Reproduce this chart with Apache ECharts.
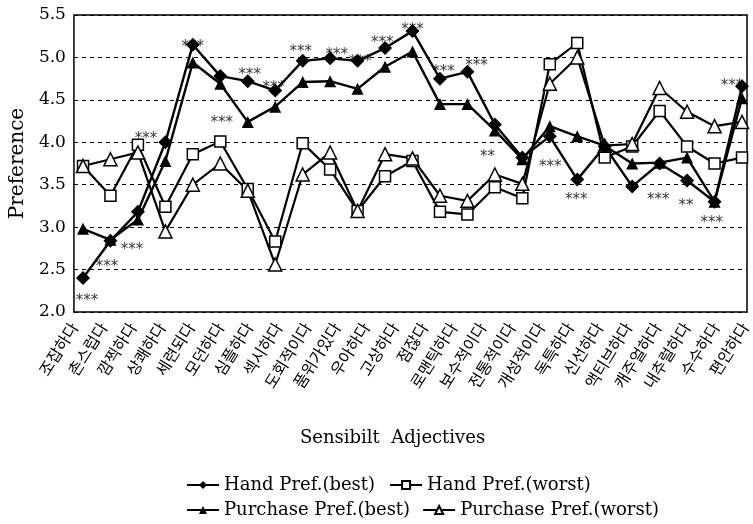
<!DOCTYPE html>
<html>
<head>
<meta charset="utf-8">
<script src="https://cdn.jsdelivr.net/npm/echarts@6/dist/echarts.min.js"></script>
<style>
  html, body { margin: 0; padding: 0; background: #fff; }
  #main { width: 753px; height: 524px; }
</style>
</head>
<body>
<div id="main"></div>
<script>
// x轴标签 (24个形容词)
var adjectives = ['조잡하다', '촌스럽다', '깜찍하다', '상쾌하다', '세련되다', '모던하다', '심플하다', '섹시하다',
  '도회적이다', '품위가있다', '우아하다', '고상하다', '점잖다', '로맨틱하다', '보수적이다', '전통적이다',
  '개성적이다', '독특하다', '신선하다', '액티브하다', '캐주얼하다', '내추럴하다', '수수하다', '편안하다'];

// y轴刻度
var yTicks = [2.0, 2.5, 3.0, 3.5, 4.0, 4.5, 5.0, 5.5];

// 四条折线 (25个点)
var handBest = [2.40, 2.84, 3.18, 4.00, 5.15, 4.78, 4.72, 4.61, 4.96, 4.99, 4.96, 5.11, 5.31,
  4.75, 4.83, 4.21, 3.82, 4.07, 3.56, 3.95, 3.48, 3.75, 3.55, 3.30, 4.66];
var handWorst = [3.72, 3.37, 3.97, 3.24, 3.86, 4.01, 3.45, 2.83, 3.99, 3.68, 3.19, 3.60, 3.78,
  3.18, 3.15, 3.47, 3.34, 4.92, 5.17, 3.82, 3.95, 4.37, 3.95, 3.75, 3.82];
var purchaseBest = [2.98, 2.85, 3.09, 3.78, 4.94, 4.69, 4.24, 4.42, 4.71, 4.72, 4.63, 4.89, 5.07,
  4.45, 4.45, 4.14, 3.80, 4.19, 4.07, 3.96, 3.75, 3.76, 3.82, 3.30, 4.52];
var purchaseWorst = [3.72, 3.80, 3.88, 2.95, 3.50, 3.75, 3.43, 2.56, 3.62, 3.88, 3.19, 3.86, 3.81,
  3.37, 3.31, 3.62, 3.51, 4.69, 5.00, 3.96, 3.98, 4.64, 4.36, 4.19, 4.24];

// 显著性标记 [点序号, 值, 文本]
var sigMarks = [
  [0.15, 2.18, '***'], [0.87, 2.58, '***'], [1.78, 2.78, '***'], [2.29, 4.09, '***'],
  [4.0, 5.17, '***'], [5.05, 4.27, '***'], [6.07, 4.84, '***'], [6.95, 4.68, '***'],
  [7.93, 5.11, '***'], [9.24, 5.08, '***'], [10.1, 4.99, '***'], [10.9, 5.22, '***'],
  [12.0, 5.37, '***'], [13.13, 4.88, '***'], [14.33, 4.95, '***'], [14.73, 3.87, '**'],
  [17.02, 3.76, '***'], [17.96, 3.37, '***'], [20.95, 3.36, '***'], [21.96, 3.29, '**'],
  [22.9, 3.09, '***'], [23.64, 4.71, '***']
];

var serif = 'DejaVu Serif';
var chart = echarts.init(document.getElementById('main'), null, { renderer: 'canvas' });

function toPairs(arr) {
  return arr.map(function (v, i) { return [i, v]; });
}

var option = {
  backgroundColor: '#fff',
  animation: false,
  grid: [
    // 外框 + y轴
    { left: 71, right: 6, top: 15, bottom: 212, show: true, borderColor: '#000', borderWidth: 1.5 },
    // 数据点
    { left: 83, right: 11, top: 15, bottom: 212 },
    // x轴标签
    { left: 74, right: 4, top: 15, bottom: 212 }
  ],
  xAxis: [
    { gridIndex: 0, type: 'value', show: false, min: 0, max: 1 },
    { gridIndex: 1, type: 'value', show: false, min: 0, max: 24 },
    {
      gridIndex: 2, type: 'category', data: adjectives, boundaryGap: false,
      axisLine: { show: false }, axisTick: { show: false }, splitLine: { show: false },
      axisLabel: { rotate: 58, margin: 12, interval: 0, fontFamily: 'Noto Sans CJK KR', fontSize: 16, color: '#000' }
    }
  ],
  yAxis: [
    {
      gridIndex: 0, type: 'value', min: yTicks[0], max: yTicks[yTicks.length - 1], interval: 0.5,
      name: 'Preference', nameLocation: 'middle', nameGap: 44, nameRotate: 90,
      nameTextStyle: { fontFamily: serif, fontSize: 20, color: '#000' },
      axisLine: { show: false }, axisTick: { show: false },
      axisLabel: {
        margin: 8, fontFamily: serif, fontSize: 17, color: '#000',
        formatter: function (v) { return v.toFixed(1); }
      },
      splitLine: { show: true, lineStyle: { color: '#000', width: 1, type: [4, 4] } }
    },
    { gridIndex: 1, type: 'value', show: false, min: 2, max: 5.5 },
    { gridIndex: 2, type: 'value', show: false, min: 2, max: 5.5 }
  ],
  legend: [
    {
      data: ['Hand Pref.(best)', 'Hand Pref.(worst)'],
      left: 181, top: 471, itemWidth: 32, itemHeight: 10, itemGap: 14,
      textStyle: { fontFamily: serif, fontSize: 18, color: '#000' }
    },
    {
      data: ['Purchase Pref.(best)', 'Purchase Pref.(worst)'],
      left: 181, top: 496, itemWidth: 32, itemHeight: 10, itemGap: 12,
      textStyle: { fontFamily: serif, fontSize: 18, color: '#000' }
    }
  ],
  graphic: [
    {
      type: 'text', left: 300, top: 429,
      style: { text: 'Sensibilt  Adjectives', font: '18px "DejaVu Serif"', fill: '#000' }
    }
  ],
  series: [
    {
      name: 'Hand Pref.(worst)', type: 'line', xAxisIndex: 1, yAxisIndex: 1,
      data: toPairs(handWorst), symbol: 'rect', symbolSize: 11,
      lineStyle: { color: '#000', width: 2.2 },
      itemStyle: { color: '#fff', borderColor: '#000', borderWidth: 1.5 }
    },
    {
      name: 'Purchase Pref.(worst)', type: 'line', xAxisIndex: 1, yAxisIndex: 1,
      data: toPairs(purchaseWorst), symbol: 'triangle', symbolSize: 13,
      lineStyle: { color: '#000', width: 2.2 },
      itemStyle: { color: '#fff', borderColor: '#000', borderWidth: 1.5 }
    },
    {
      name: 'Purchase Pref.(best)', type: 'line', xAxisIndex: 1, yAxisIndex: 1,
      data: toPairs(purchaseBest), symbol: 'triangle', symbolSize: 12,
      lineStyle: { color: '#000', width: 2.4 },
      itemStyle: { color: '#000' }
    },
    {
      name: 'Hand Pref.(best)', type: 'line', xAxisIndex: 1, yAxisIndex: 1,
      data: toPairs(handBest), symbol: 'diamond', symbolSize: 14,
      lineStyle: { color: '#000', width: 2.4 },
      itemStyle: { color: '#000' }
    },
    {
      name: 'sig', type: 'scatter', xAxisIndex: 1, yAxisIndex: 1, silent: true,
      data: sigMarks, symbol: 'circle', symbolSize: 1,
      itemStyle: { color: 'rgba(0,0,0,0)' },
      label: {
        show: true, position: 'inside', offset: [0, 4],
        fontFamily: 'DejaVu Sans', fontSize: 15, color: '#000',
        formatter: function (p) { return p.data[2]; }
      }
    }
  ]
};

chart.setOption(option);
</script>
</body>
</html>
